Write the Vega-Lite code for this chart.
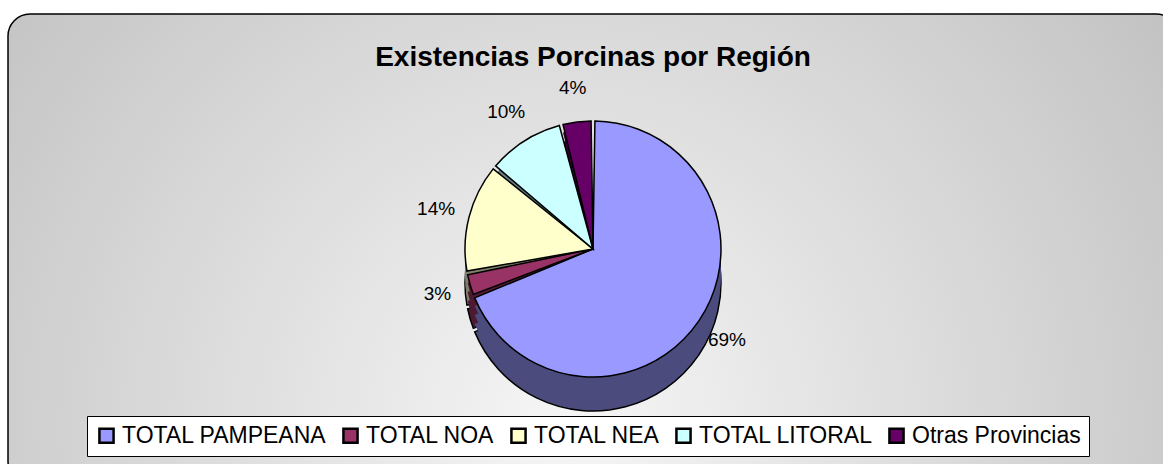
{
  "$schema": "https://vega.github.io/schema/vega-lite/v6.json",
  "width": 1170,
  "height": 470,
  "autosize": "none",
  "padding": {"left": 8, "top": 14, "right": 0, "bottom": 0},
  "background": "white",
  "view": {
    "fill": {
      "gradient": "radial",
      "x1": 0.48, "y1": 0.65, "x2": 0.48, "y2": 0.65,
      "r1": 0, "r2": 0.65,
      "stops": [
        {"offset": 0, "color": "#f6f6f6"},
        {"offset": 1, "color": "#c0c0c0"}
      ]
    },
    "stroke": "black",
    "strokeWidth": 1.5,
    "cornerRadius": 22
  },
  "title": {
    "text": "Existencias Porcinas por Región",
    "font": "Liberation Sans",
    "fontSize": 28,
    "fontWeight": "bold",
    "color": "black",
    "anchor": "middle",
    "frame": "group",
    "baseline": "bottom",
    "offset": -86
  },
  "config": {
    "font": "Liberation Sans"
  },
  "data": {
    "values": [
      {"region": "TOTAL PAMPEANA", "pct": 69, "label": "69%", "order": 1},
      {"region": "TOTAL NOA", "pct": 3, "label": "3%", "order": 2},
      {"region": "TOTAL NEA", "pct": 14, "label": "14%", "order": 3},
      {"region": "TOTAL LITORAL", "pct": 10, "label": "10%", "order": 4},
      {"region": "Otras Provincias", "pct": 4, "label": "4%", "order": 5}
    ]
  },
  "encoding": {
    "theta": {"field": "pct", "type": "quantitative", "stack": true},
    "order": {"field": "order", "type": "quantitative"}
  },
  "layer": [
    {
      "mark": {"type": "arc", "outerRadius": 128, "padAngle": 0.03, "yOffset": 34, "stroke": "black", "strokeWidth": 1.5},
      "encoding": {
        "color": {"field": "region", "type": "nominal", "legend": null,
          "scale": {"domain": ["TOTAL PAMPEANA", "TOTAL NOA", "TOTAL NEA", "TOTAL LITORAL", "Otras Provincias"],
                    "range": ["#4b4c7d", "#4d1a33", "#80806a", "#668080", "#330033"]}}
      }
    },
    {
      "mark": {"type": "arc", "outerRadius": 128, "padAngle": 0.03, "yOffset": 26},
      "encoding": {
        "color": {"field": "region", "type": "nominal", "legend": null,
          "scale": {"domain": ["TOTAL PAMPEANA", "TOTAL NOA", "TOTAL NEA", "TOTAL LITORAL", "Otras Provincias"],
                    "range": ["#4b4c7d", "#4d1a33", "#80806a", "#668080", "#330033"]}}
      }
    },
    {
      "mark": {"type": "arc", "outerRadius": 128, "padAngle": 0.03, "yOffset": 17},
      "encoding": {
        "color": {"field": "region", "type": "nominal", "legend": null,
          "scale": {"domain": ["TOTAL PAMPEANA", "TOTAL NOA", "TOTAL NEA", "TOTAL LITORAL", "Otras Provincias"],
                    "range": ["#4b4c7d", "#4d1a33", "#80806a", "#668080", "#330033"]}}
      }
    },
    {
      "mark": {"type": "arc", "outerRadius": 128, "padAngle": 0.03, "yOffset": 8},
      "encoding": {
        "color": {"field": "region", "type": "nominal", "legend": null,
          "scale": {"domain": ["TOTAL PAMPEANA", "TOTAL NOA", "TOTAL NEA", "TOTAL LITORAL", "Otras Provincias"],
                    "range": ["#4b4c7d", "#4d1a33", "#80806a", "#668080", "#330033"]}}
      }
    },
    {
      "mark": {"type": "arc", "outerRadius": 128, "padAngle": 0.03, "stroke": "black", "strokeWidth": 1.5},
      "encoding": {
        "color": {"field": "region", "type": "nominal",
          "scale": {"domain": ["TOTAL PAMPEANA", "TOTAL NOA", "TOTAL NEA", "TOTAL LITORAL", "Otras Provincias"],
                    "range": ["#9999ff", "#993366", "#ffffcc", "#ccffff", "#660066"]},
          "legend": {
            "orient": "none",
            "direction": "horizontal",
            "legendX": 79,
            "legendY": 402,
            "title": null,
            "fillColor": "white",
            "strokeColor": "black",
            "padding": 8,
            "symbolType": "square",
            "symbolSize": 200,
            "symbolStrokeColor": "black",
            "symbolStrokeWidth": 2.5,
            "symbolOpacity": 1,
            "labelFont": "Liberation Sans",
            "labelFontSize": 23,
            "labelColor": "black",
            "labelOffset": 4,
            "columnPadding": 11,
            "labelLimit": 300
          }
        }
      }
    },
    {
      "mark": {"type": "text", "radius": 162, "font": "Liberation Sans", "fontSize": 19, "color": "black"},
      "encoding": {
        "text": {"field": "label", "type": "nominal"}
      }
    }
  ],
  "resolve": {"scale": {"color": "independent"}}
}
